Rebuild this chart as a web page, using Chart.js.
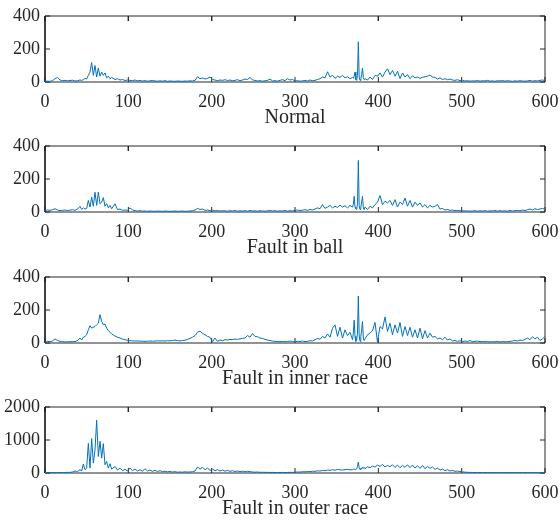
<!DOCTYPE html>
<html>
<head>
<meta charset="utf-8">
<script src="https://cdn.jsdelivr.net/npm/chart.js@4.4.1/dist/chart.umd.min.js"></script>
<style>
  body { margin: 0; background: #fff; width: 560px; height: 521px; overflow: hidden; position: relative; }
  .panel { position: absolute; left: 0; width: 560px; height: 130px; }
</style>
</head>
<body>
<div class="panel" style="top:0px"><canvas id="p0"></canvas></div>
<div class="panel" style="top:130px"><canvas id="p1"></canvas></div>
<div class="panel" style="top:261px"><canvas id="p2"></canvas></div>
<div class="panel" style="top:391px"><canvas id="p3"></canvas></div>
<script>
// Frequency bins (finer around the peaks)
const freq = [
  0, 3, 6, 9, 12, 15, 18, 21, 24, 27,
  30, 33, 36, 39, 42, 44, 46, 48, 50, 52,
  54, 56, 58, 60, 62, 64, 66, 68, 70, 72,
  74, 76, 78, 80, 84, 87, 90, 93, 96, 99,
  102, 105, 108, 111, 114, 117, 120, 123, 126, 129,
  132, 135, 138, 141, 144, 147, 150, 153, 156, 159,
  162, 165, 168, 171, 174, 177, 180, 183, 186, 189,
  192, 195, 198, 201, 204, 207, 210, 213, 216, 219,
  222, 225, 228, 231, 234, 237, 240, 243, 246, 249,
  252, 255, 258, 261, 264, 267, 270, 273, 276, 279,
  282, 285, 288, 291, 294, 297, 300, 303, 306, 309,
  312, 315, 318, 321, 324, 327, 330, 333, 336, 339,
  342, 345, 348, 351, 354, 357, 360, 363, 366, 369,
  370, 371, 372, 373, 374, 375, 376, 377, 378, 379,
  380, 381, 382, 383, 384, 387, 390, 393, 396, 399,
  402, 405, 408, 411, 414, 417, 420, 423, 426, 429,
  432, 435, 438, 441, 444, 447, 450, 453, 456, 459,
  462, 465, 468, 471, 474, 477, 480, 483, 486, 489,
  492, 495, 498, 501, 504, 507, 510, 513, 516, 519,
  522, 525, 528, 531, 534, 537, 540, 543, 546, 549,
  552, 555, 558, 561, 564, 567, 570, 573, 576, 579,
  582, 585, 588, 591, 594, 597, 600
];

const normalAmp = [
  4, 5, 4, 8, 20, 28, 12, 8, 10, 7,
  9, 11, 6, 8, 12, 10, 14, 22, 18, 40,
  60, 118, 40, 100, 30, 85, 35, 60, 40, 55,
  25, 35, 20, 28, 15, 20, 12, 15, 9, 12,
  10, 8, 12, 7, 9, 6, 8, 5, 7, 9,
  6, 5, 7, 5, 8, 4, 6, 5, 4, 6,
  5, 4, 6, 5, 7, 6, 10, 32, 20, 25,
  18, 22, 30, 15, 12, 8, 12, 10, 14, 9,
  12, 8, 10, 14, 8, 12, 18, 15, 28, 12,
  10, 6, 8, 5, 7, 10, 18, 6, 8, 5,
  10, 14, 8, 20, 12, 15, 6, 8, 5, 7,
  9, 6, 12, 8, 10, 15, 20, 30, 25, 62,
  30, 40, 22, 35, 28, 40, 25, 32, 20, 28,
  22, 35, 60, 15, 10, 40, 244, 30, 10, 20,
  45, 85, 25, 15, 20, 12, 30, 15, 40, 35,
  55, 30, 60, 80, 45, 70, 35, 65, 20, 55,
  30, 45, 20, 38, 25, 30, 22, 28, 32, 35,
  42, 30, 28, 18, 25, 15, 20, 14, 18, 12,
  10, 14, 8, 10, 6, 8, 5, 7, 6, 9,
  5, 8, 6, 10, 5, 7, 4, 8, 6, 9,
  5, 8, 6, 4, 7, 5, 8, 6, 5, 7,
  9, 5, 8, 6, 10, 12, 8
];

const ballAmp = [
  8, 12, 10, 14, 20, 12, 8, 10, 12, 9,
  11, 14, 10, 18, 35, 15, 25, 18, 22, 70,
  30, 90, 35, 120, 40, 120, 50, 60, 87, 35,
  50, 25, 40, 20, 50, 15, 18, 10, 12, 10,
  25, 12, 8, 6, 8, 5, 6, 4, 6, 5,
  4, 6, 5, 4, 6, 5, 4, 5, 6, 4,
  5, 6, 4, 5, 6, 8, 12, 22, 15, 18,
  10, 12, 8, 10, 7, 9, 6, 8, 7, 5,
  8, 6, 9, 5, 7, 6, 8, 5, 9, 6,
  7, 5, 8, 6, 5, 7, 9, 6, 8, 5,
  7, 6, 9, 5, 8, 6, 10, 12, 9, 11,
  14, 10, 15, 12, 18, 25, 20, 45, 22, 30,
  40, 25, 35, 28, 42, 30, 38, 25, 40, 30,
  45, 95, 30, 20, 15, 50, 312, 40, 15, 30,
  60, 95, 25, 15, 30, 15, 35, 25, 45, 60,
  100, 45, 65, 55, 70, 40, 75, 30, 60, 45,
  85, 35, 70, 30, 60, 40, 55, 30, 45, 25,
  40, 30, 35, 45, 18, 22, 12, 15, 10, 12,
  8, 10, 7, 8, 6, 7, 5, 6, 8, 5,
  7, 6, 8, 5, 7, 6, 9, 5, 8, 6,
  7, 5, 9, 6, 8, 10, 7, 12, 9, 14,
  18, 12, 20, 15, 18, 22, 16
];

const innerAmp = [
  5, 10, 8, 12, 25, 15, 10, 8, 6, 8,
  7, 9, 8, 15, 30, 18, 35, 40, 50, 80,
  105, 90, 95, 100, 110, 120, 172, 130, 110, 115,
  90, 75, 65, 55, 42, 35, 30, 24, 20, 16,
  14, 13, 12, 12, 11, 11, 10, 11, 12, 11,
  12, 13, 12, 13, 12, 14, 13, 15, 18, 14,
  13, 15, 17, 22, 28, 35, 45, 65, 72, 58,
  50, 40, 35, 8, 30, 10, 18, 14, 20, 18,
  22, 20, 24, 22, 25, 28, 30, 45, 35, 58,
  40, 38, 30, 28, 22, 18, 15, 12, 10, 9,
  8, 10, 7, 9, 12, 8, 7, 10, 9, 12,
  8, 10, 14, 12, 20, 28, 22, 40, 30, 55,
  35, 90, 110, 40, 95, 30, 80, 45, 65, 20,
  60, 138, 40, 10, 20, 60, 285, 50, 10, 40,
  80, 130, 30, 15, 25, 50, 60, 75, 125, 5,
  100, 85, 158, 70, 120, 50, 110, 60, 125, 40,
  100, 45, 95, 35, 80, 30, 90, 25, 75, 30,
  60, 35, 40, 25, 30, 20, 35, 18, 25, 12,
  15, 10, 14, 8, 12, 9, 15, 8, 10, 12,
  8, 10, 7, 9, 6, 8, 7, 10, 6, 9,
  7, 8, 10, 12, 15, 12, 18, 15, 22, 30,
  20, 38, 25, 35, 15, 25, 40
];

const outerAmp = [
  10, 12, 10, 15, 12, 10, 14, 12, 15, 20,
  18, 30, 60, 45, 100, 60, 270, 100, 150, 900,
  150, 1040, 300, 700, 1600, 500, 960, 450, 890, 250,
  350, 150, 280, 120, 200, 90, 150, 70, 110, 60,
  150, 70, 120, 60, 100, 50, 130, 60, 90, 50,
  80, 45, 70, 40, 55, 35, 45, 30, 40, 25,
  30, 25, 35, 28, 30, 40, 60, 180, 120, 170,
  100, 150, 80, 120, 70, 100, 60, 90, 55, 80,
  50, 70, 45, 60, 40, 55, 35, 50, 40, 30,
  25, 30, 20, 22, 18, 20, 15, 18, 14, 16,
  15, 18, 14, 16, 20, 18, 25, 30, 28, 40,
  35, 45, 40, 55, 50, 65, 60, 75, 70, 90,
  80, 100, 85, 110, 95, 90, 100, 110, 95, 100,
  110, 120, 100, 110, 130, 200, 330, 150, 100, 150,
  120, 180, 140, 170, 130, 190, 160, 210, 180, 240,
  200, 260, 180, 230, 190, 250, 170, 240, 160, 230,
  170, 250, 160, 240, 150, 220, 140, 230, 130, 200,
  140, 180, 110, 150, 90, 120, 70, 100, 60, 80,
  50, 60, 40, 35, 25, 20, 18, 15, 14, 12,
  13, 12, 14, 11, 12, 13, 10, 12, 11, 12,
  10, 12, 11, 13, 10, 12, 11, 10, 12, 11,
  10, 12, 11, 10, 12, 11, 10
];

const panelLabels = ['Normal', 'Fault in ball', 'Fault in inner race', 'Fault in outer race'];
const panelSeries = [normalAmp, ballAmp, innerAmp, outerAmp];
const xTickValues = [0, 100, 200, 300, 400, 500, 600];
const yTickValues = [[0, 200, 400], [0, 200, 400], [0, 200, 400], [0, 1000, 2000]];

const axisColor = '#262626';
const lineColor = '#0072BD';
const fontFamily = '"Liberation Serif", "Times New Roman", serif';

// box outline + short inward tick marks, as line segments in data units
function frameSegments(xMax, yMax) {
  const dx = xMax * 5 / 500;   // about 5 px
  const dy = yMax * 5 / 66;
  const pts = [{ x: 0, y: 0 }, { x: xMax, y: 0 }, { x: xMax, y: yMax }, { x: 0, y: yMax }, { x: 0, y: 0 }, { x: 0, y: null }];
  xTickValues.forEach(v => {
    pts.push({ x: v, y: 0 }, { x: v, y: dy }, { x: v, y: null });
    pts.push({ x: v, y: yMax }, { x: v, y: yMax - dy }, { x: v, y: null });
  });
  return { pts, dx };
}

panelSeries.forEach((amp, i) => {
  const yt = yTickValues[i];
  const yMax = yt[yt.length - 1];
  const xMax = xTickValues[xTickValues.length - 1];
  const frame = frameSegments(xMax, yMax);
  yt.forEach(v => {
    frame.pts.push({ x: 0, y: v }, { x: frame.dx, y: v }, { x: 0, y: null });
    frame.pts.push({ x: xMax, y: v }, { x: xMax - frame.dx, y: v }, { x: xMax, y: null });
  });

  new Chart(document.getElementById('p' + i), {
    type: 'line',
    data: {
      datasets: [{
        data: freq.map((f, k) => ({ x: f, y: amp[k] })),
        borderColor: lineColor,
        borderWidth: 1,
        pointRadius: 0,
        tension: 0
      }, {
        data: frame.pts,
        borderColor: axisColor,
        borderWidth: 1,
        pointRadius: 0,
        tension: 0,
        spanGaps: false,
        clip: 2
      }]
    },
    options: {
      responsive: true,
      maintainAspectRatio: false,
      animation: false,
      layout: { padding: { top: 16, right: 15 } },
      plugins: { legend: { display: false }, tooltip: { enabled: false } },
      scales: {
        x: {
          type: 'linear',
          min: 0,
          max: xMax,
          grid: { display: false, drawTicks: false },
          border: { display: false },
          ticks: {
            stepSize: 100,
            padding: 9,
            color: axisColor,
            maxRotation: 0,
            font: { family: fontFamily, size: 18 },
            callback: v => String(v)
          },
          title: {
            display: true,
            text: panelLabels[i],
            color: axisColor,
            padding: { top: 0, bottom: 0 },
            font: { family: fontFamily, size: 20 }
          },
          afterFit: scale => { scale.height = 130 - 16 - 66; scale.paddingRight = 0; }
        },
        y: {
          min: 0,
          max: yMax,
          grid: { display: false, drawTicks: false },
          border: { display: false },
          ticks: {
            stepSize: yt[1],
            padding: 5,
            color: axisColor,
            font: { family: fontFamily, size: 18 },
            callback: v => String(v)
          },
          afterFit: scale => { scale.width = 45; }
        }
      }
    }
  });
});
</script>
</body>
</html>
